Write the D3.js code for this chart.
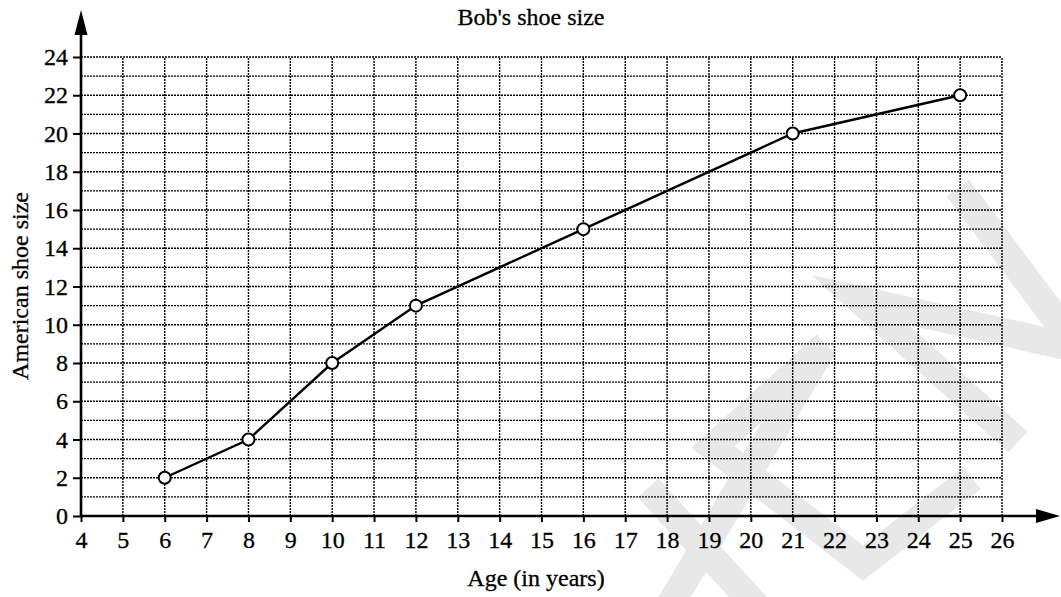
<!DOCTYPE html>
<html>
<head>
<meta charset="utf-8">
<script src="https://cdn.jsdelivr.net/npm/d3@7"></script>
<style>
  html, body { margin: 0; padding: 0; background: #fff; }
  svg { display: block; }
  svg text { font-family: "Liberation Serif", "Times New Roman", serif !important; fill: #000; stroke: #000; stroke-width: 0.3px; }
</style>
</head>
<body>
<svg id="chart" width="1061" height="597"></svg>
<script>
// ---- data ----
const ages = [6, 8, 10, 12, 16, 21, 25];
const shoeSizes = [2, 4, 8, 11, 15, 20, 22];
const xTickValues = d3.range(4, 27);          // 4..26
const yTickValues = d3.range(0, 25, 2);       // 0..24 by 2
const title = "Bob's shoe size";
const xLabel = "Age (in years)";
const yLabel = "American shoe size";

const svg = d3.select("#chart");
const x = d3.scaleLinear().domain([4, 26]).range([81, 1002]);
const y = d3.scaleLinear().domain([0, 24]).range([516, 57]);

// ---- decorative watermark (light gray bands) ----
const wm = svg.append("g").attr("fill", "none").attr("stroke", "#e8e8e8")
  .attr("stroke-width", 28).attr("stroke-linejoin", "miter").attr("stroke-linecap", "butt");
const wmPaths = [
  [[667, 610], [824, 345]],
  [[648, 488], [760, 610]],
  [[826, 345], [713, 447], [863, 563], [972, 478]],
  [[1075, 348], [860, 300], [1018, 442]],
  [[958, 188], [1070, 338]]
];
wmPaths.forEach(p => wm.append("path").attr("d", d3.line()(p)));

// ---- grid ----
const grid = svg.append("g").attr("stroke", "#000").attr("stroke-width", 1.4)
  .attr("stroke-dasharray", "2,1");
grid.selectAll("line.v").data(d3.range(5, 27)).join("line")
  .attr("x1", d => x(d)).attr("x2", d => x(d))
  .attr("y1", y(0)).attr("y2", y(24));
grid.selectAll("line.h").data(d3.range(1, 25)).join("line")
  .attr("x1", x(4)).attr("x2", x(26))
  .attr("y1", d => y(d)).attr("y2", d => y(d));

// ---- axes ----
const xAxis = d3.axisBottom(x).tickValues(xTickValues).tickSize(6).tickPadding(9)
  .tickFormat(d3.format("d"));
const gx = svg.append("g").attr("transform", `translate(0,${y(0)})`).call(xAxis)
  .attr("font-family", null).attr("font-size", null);
gx.select(".domain").remove();
gx.selectAll(".tick line").attr("stroke", "#000").attr("stroke-width", 2);
gx.selectAll("text").style("font-size", "24px");

const yAxis = d3.axisLeft(y).tickValues(yTickValues).tickSize(8).tickPadding(5)
  .tickFormat(d3.format("d"));
const gy = svg.append("g").attr("transform", `translate(${x(4)},0)`).call(yAxis)
  .attr("font-family", null).attr("font-size", null);
gy.select(".domain").remove();
gy.selectAll(".tick line").attr("stroke", "#000").attr("stroke-width", 2);
gy.selectAll("text").style("font-size", "24px");

// axis lines with arrows
const ax = svg.append("g");
ax.append("line").attr("x1", x(4)).attr("x2", 1040).attr("y1", y(0)).attr("y2", y(0))
  .attr("stroke", "#000").attr("stroke-width", 2.6);
ax.append("path").attr("d", d3.line()([[1036, y(0) - 7], [1060, y(0)], [1036, y(0) + 7]]) + "Z")
  .attr("fill", "#000");
ax.append("line").attr("x1", x(4)).attr("x2", x(4)).attr("y1", y(0) + 1).attr("y2", 32)
  .attr("stroke", "#000").attr("stroke-width", 2.6);
ax.append("path").attr("d", d3.line()([[x(4) - 6.5, 35], [x(4), 10], [x(4) + 6.5, 35]]) + "Z")
  .attr("fill", "#000");

// ---- data line & markers ----
const pts = ages.map((a, i) => [a, shoeSizes[i]]);
svg.append("path").datum(pts)
  .attr("d", d3.line().x(d => x(d[0])).y(d => y(d[1])))
  .attr("fill", "none").attr("stroke", "#000").attr("stroke-width", 2.4);
svg.selectAll("circle.pt").data(pts).join("circle")
  .attr("cx", d => x(d[0])).attr("cy", d => y(d[1])).attr("r", 6)
  .attr("fill", "#fff").attr("stroke", "#000").attr("stroke-width", 2);

// ---- labels ----
svg.append("text").attr("x", 531).attr("y", 25).attr("text-anchor", "middle")
  .style("font-size", "24px").text(title);
svg.append("text").attr("x", 536).attr("y", 586).attr("text-anchor", "middle")
  .style("font-size", "24px").text(xLabel);
svg.append("text").attr("transform", "translate(28,286) rotate(-90)")
  .attr("text-anchor", "middle").style("font-size", "24px").text(yLabel);
</script>
</body>
</html>
